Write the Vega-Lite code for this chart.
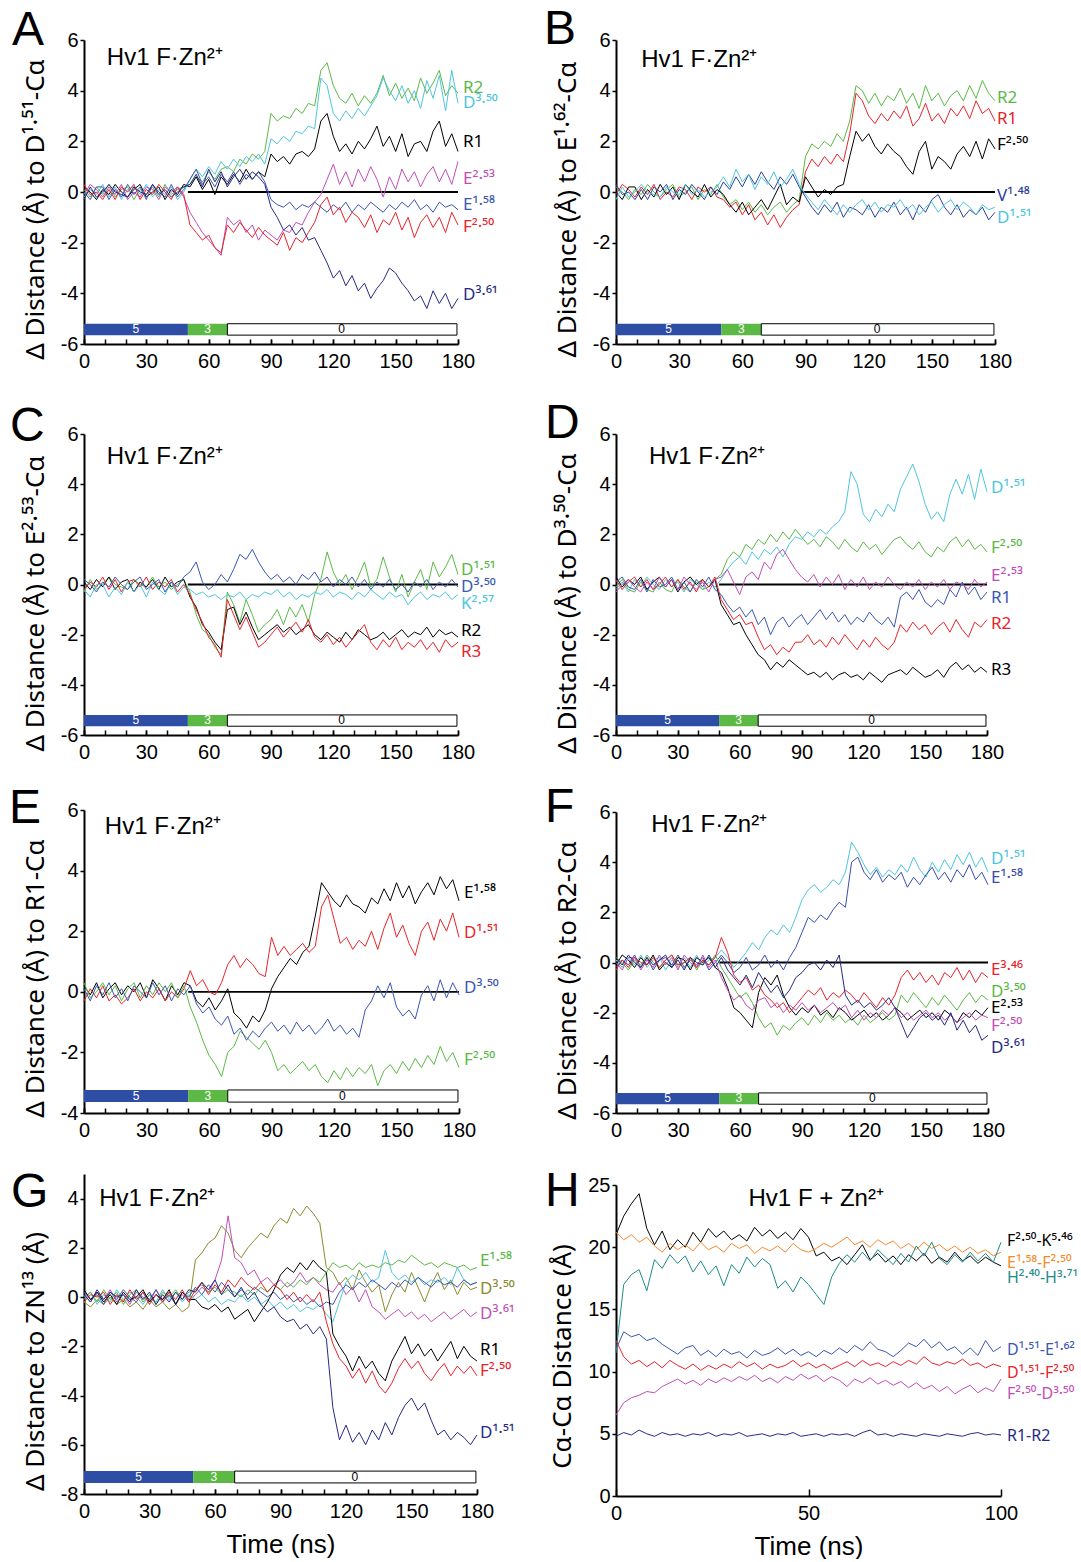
{
"$schema":"https://vega.github.io/schema/vega-lite/v6.json",
"background":"white",
"padding":{"left":9,"top":6,"right":0,"bottom":0},
"config":{
 "font":"Liberation Sans",
 "view":{"stroke":null},
 "axis":{"grid":false,"domainColor":"#000","domainWidth":2,"tickColor":"#000","tickWidth":1.5,"labelColor":"#000","labelFontSize":20,"labelFont":"Liberation Sans","titleFont":"Liberation Sans","titleFontSize":28,"titleFontWeight":"normal","titleColor":"#000","labelFlush":false,"labelOverlap":false},
 "axisX":{"tickSize":-5,"labelPadding":12,"titlePadding":10,"titleFontSize":26},
 "axisY":{"tickSize":4,"labelPadding":2,"titlePadding":12,"titleFont":"Noto Sans","titleFontSize":26},
 "title":{"fontSize":48,"fontWeight":"normal","anchor":"start","frame":"group","offset":0,"baseline":"alphabetic","color":"#000","font":"Liberation Sans"},
 "text":{"font":"Liberation Sans","color":"#000"}
},
"resolve":{"scale":{"color":"independent"}},
"datasets":{
"bars":[{"x0":0,"x1":50,"l":"5","c":"b","m":25},{"x0":50,"x1":69,"l":"3","c":"g","m":59.5},{"x0":69,"x1":179.5,"l":"0","c":"w","m":124}],
"A":[
{"t":0,"a":0.1,"b":-0.2,"c":0.2,"d":-0.1,"e":0,"f":0.3,"g":-0.3},
{"t":3,"a":-0.2,"b":0.1,"c":0,"d":0.3,"e":-0.3,"f":-0.1,"g":0.2},
{"t":6,"a":0.2,"b":-0.1,"c":-0.3,"d":0.1,"e":0.2,"f":0,"g":-0.2},
{"t":9,"a":-0.1,"b":0.3,"c":0.1,"d":-0.2,"e":0.2,"f":-0.3,"g":0},
{"t":12,"a":0.3,"b":-0.2,"c":-0.1,"d":0.2,"e":-0.3,"f":0.1,"g":0.3},
{"t":15,"a":-0.2,"b":0.2,"c":0.3,"d":-0.1,"e":0.1,"f":-0.3,"g":0},
{"t":18,"a":0.1,"b":-0.3,"c":0,"d":0.3,"e":-0.2,"f":0.2,"g":-0.1},
{"t":21,"a":0.2,"b":0.1,"c":-0.2,"d":-0.3,"e":0.3,"f":0,"g":-0.2},
{"t":24,"a":-0.3,"b":0.2,"c":0.1,"d":0,"e":-0.1,"f":0.3,"g":0.2},
{"t":27,"a":0.1,"b":-0.1,"c":0.3,"d":-0.2,"e":0.2,"f":-0.3,"g":0},
{"t":30,"a":-0.1,"b":0.3,"c":-0.2,"d":0.2,"e":-0.3,"f":0.1,"g":-0.1},
{"t":33,"a":0.2,"b":-0.2,"c":0,"d":0.1,"e":0.3,"f":-0.1,"g":0.3},
{"t":36,"a":-0.2,"b":0.1,"c":0.2,"d":-0.3,"e":0,"f":0.3,"g":-0.1},
{"t":39,"a":0.3,"b":-0.1,"c":-0.3,"d":0.2,"e":-0.2,"f":0,"g":0.1},
{"t":42,"a":-0.1,"b":0.2,"c":0.1,"d":0,"e":0.3,"f":-0.3,"g":-0.2},
{"t":45,"a":0.1,"b":-0.3,"c":-0.1,"d":0.2,"e":-0.2,"f":0.2,"g":0},
{"t":48,"a":0.2,"b":0,"c":0.3,"d":-0.2,"e":0.1,"f":-0.1,"g":0.2},
{"t":51,"a":0.3,"b":0.5,"c":0.2,"d":-0.8,"e":0.5,"f":-1.3,"g":0.3},
{"t":54,"a":0.6,"b":0.9,"c":0.6,"d":-1.2,"e":0.9,"f":-1.6,"g":0.7},
{"t":57,"a":0.4,"b":0.6,"c":0.1,"d":-1.6,"e":0.3,"f":-1.9,"g":0.2},
{"t":60,"a":0.8,"b":1,"c":0.5,"d":-1.9,"e":0.6,"f":-1.7,"g":0.9},
{"t":63,"a":0.5,"b":0.7,"c":-0.1,"d":-2.2,"e":0.2,"f":-2.2,"g":0.4},
{"t":66,"a":0.9,"b":1.2,"c":0.6,"d":-2.5,"e":0.7,"f":-2.4,"g":0.8},
{"t":69,"a":1,"b":0.9,"c":0.3,"d":-1,"e":0.4,"f":-1.3,"g":0.2},
{"t":72,"a":0.8,"b":1.3,"c":0.7,"d":-1.3,"e":0.8,"f":-1.6,"g":0.6},
{"t":75,"a":1.3,"b":1,"c":0.4,"d":-1.1,"e":0.3,"f":-1.2,"g":0.9},
{"t":78,"a":1.1,"b":1.4,"c":0.9,"d":-1.6,"e":0.7,"f":-1.5,"g":0.5},
{"t":81,"a":1.5,"b":1.2,"c":0.5,"d":-1.3,"e":0.5,"f":-1.8,"g":0.8},
{"t":84,"a":1.3,"b":1.5,"c":0.8,"d":-1.9,"e":0.8,"f":-1.4,"g":0.6},
{"t":87,"a":1.6,"b":1.1,"c":0.6,"d":-1.5,"e":0.4,"f":-1.7,"g":0.3},
{"t":90,"a":3.1,"b":2.1,"c":1.5,"d":-1.7,"e":-0.3,"f":-1.9,"g":-0.6},
{"t":93,"a":2.8,"b":1.9,"c":1.2,"d":-1.9,"e":-0.5,"f":-2.1,"g":-1},
{"t":96,"a":3,"b":2.2,"c":1.4,"d":-1.5,"e":-0.6,"f":-1.6,"g":-1.5},
{"t":99,"a":2.9,"b":2,"c":1.1,"d":-1.6,"e":-0.4,"f":-2.3,"g":-1.3},
{"t":102,"a":3.3,"b":2.4,"c":1.5,"d":-1.2,"e":-0.7,"f":-1.8,"g":-1.7},
{"t":105,"a":3.1,"b":2.3,"c":1.6,"d":-1.3,"e":-0.5,"f":-2,"g":-1.4},
{"t":108,"a":3.5,"b":2.6,"c":1.4,"d":-0.8,"e":-0.6,"f":-1.6,"g":-1.9},
{"t":111,"a":3.4,"b":2.5,"c":1.7,"d":-0.4,"e":-0.4,"f":-1.2,"g":-1.8},
{"t":114,"a":4.8,"b":4.5,"c":2.8,"d":-0.1,"e":-0.6,"f":-0.5,"g":-2.3},
{"t":117,"a":5.1,"b":4.2,"c":3.1,"d":0.5,"e":-0.8,"f":-0.2,"g":-2.8},
{"t":120,"a":4.2,"b":3.1,"c":2.2,"d":1.1,"e":-0.5,"f":-0.9,"g":-3.4},
{"t":123,"a":3.7,"b":2.8,"c":1.6,"d":0.3,"e":-0.7,"f":-0.6,"g":-3.1},
{"t":126,"a":3.5,"b":3.2,"c":1.9,"d":0.8,"e":-0.4,"f":-1.2,"g":-3.7},
{"t":129,"a":3.9,"b":2.9,"c":1.5,"d":0.2,"e":-0.8,"f":-0.8,"g":-3.3},
{"t":132,"a":3.4,"b":3.3,"c":2,"d":0.9,"e":-0.5,"f":-1,"g":-3.9},
{"t":135,"a":3.8,"b":3,"c":1.7,"d":0.4,"e":-0.7,"f":-1.4,"g":-3.6},
{"t":138,"a":3.5,"b":3.4,"c":2.1,"d":1,"e":-0.4,"f":-0.9,"g":-4.2},
{"t":141,"a":3.9,"b":3.8,"c":2.6,"d":0.5,"e":-0.6,"f":-1.6,"g":-3.8},
{"t":144,"a":4.6,"b":4.5,"c":1.8,"d":-0.2,"e":-0.8,"f":-1.1,"g":-3.5},
{"t":147,"a":3.8,"b":4,"c":2.2,"d":0.6,"e":-0.5,"f":-1.3,"g":-3},
{"t":150,"a":4.3,"b":3.6,"c":1.6,"d":0.1,"e":-0.7,"f":-0.8,"g":-3.2},
{"t":153,"a":3.7,"b":4.2,"c":2.3,"d":0.9,"e":-0.4,"f":-1.5,"g":-3.6},
{"t":156,"a":4.1,"b":3.5,"c":1.4,"d":0.4,"e":-0.6,"f":-1,"g":-3.9},
{"t":159,"a":3.6,"b":4,"c":1.9,"d":0.8,"e":-0.3,"f":-1.8,"g":-4.3},
{"t":162,"a":4.5,"b":3.3,"c":2,"d":0.2,"e":-0.7,"f":-1.2,"g":-4.1},
{"t":165,"a":3.9,"b":4.4,"c":1.6,"d":0.7,"e":-0.5,"f":-0.9,"g":-4.6},
{"t":168,"a":4.3,"b":3.7,"c":2.4,"d":1,"e":-0.8,"f":-1.4,"g":-3.9},
{"t":171,"a":4.8,"b":4.6,"c":2.8,"d":0.4,"e":-0.4,"f":-1,"g":-4.4},
{"t":174,"a":3.8,"b":3.2,"c":1.8,"d":0.9,"e":-0.6,"f":-1.6,"g":-4},
{"t":177,"a":4.2,"b":4.8,"c":2.3,"d":0.3,"e":-0.5,"f":-0.8,"g":-4.6},
{"t":180,"a":3.9,"b":3.5,"c":1.6,"d":1.2,"e":-0.7,"f":-1.3,"g":-4.2}
],
"B":[
{"t":0,"a":0.2,"b":-0.1,"c":0,"d":0.3,"e":-0.3},
{"t":3,"a":0,"b":0.3,"c":-0.3,"d":-0.1,"e":0.2},
{"t":6,"a":-0.3,"b":0.1,"c":0.2,"d":0,"e":-0.2},
{"t":9,"a":0.1,"b":-0.2,"c":0.2,"d":-0.3,"e":0},
{"t":12,"a":-0.1,"b":0.2,"c":-0.3,"d":0.1,"e":0.3},
{"t":15,"a":0.3,"b":-0.1,"c":0.1,"d":-0.3,"e":0},
{"t":18,"a":0,"b":0.3,"c":-0.2,"d":0.2,"e":-0.1},
{"t":21,"a":-0.2,"b":-0.3,"c":0.3,"d":0,"e":-0.2},
{"t":24,"a":0.1,"b":0,"c":-0.1,"d":0.3,"e":0.2},
{"t":27,"a":0.3,"b":-0.2,"c":0.2,"d":-0.3,"e":0},
{"t":30,"a":-0.2,"b":0.2,"c":-0.3,"d":0.1,"e":-0.1},
{"t":33,"a":0,"b":0.1,"c":0.3,"d":-0.1,"e":0.3},
{"t":36,"a":0.2,"b":-0.3,"c":0,"d":0.3,"e":-0.1},
{"t":39,"a":-0.3,"b":0.2,"c":-0.2,"d":0,"e":0.1},
{"t":42,"a":0.1,"b":0,"c":0.3,"d":-0.3,"e":-0.2},
{"t":45,"a":-0.1,"b":0.2,"c":-0.2,"d":0.2,"e":0},
{"t":48,"a":0.3,"b":-0.2,"c":0.1,"d":-0.1,"e":0.2},
{"t":51,"a":-0.2,"b":-0.3,"c":-0.1,"d":0.4,"e":0.6},
{"t":54,"a":-0.5,"b":-0.6,"c":-0.5,"d":0.1,"e":0.2},
{"t":57,"a":-0.3,"b":-0.4,"c":-0.8,"d":0.6,"e":0.9},
{"t":60,"a":-0.7,"b":-0.9,"c":-0.4,"d":0.2,"e":0.4},
{"t":63,"a":-0.4,"b":-0.5,"c":-0.9,"d":0.7,"e":0.7},
{"t":66,"a":-0.8,"b":-1.1,"c":-0.6,"d":0.3,"e":0.1},
{"t":69,"a":-0.5,"b":-0.8,"c":-0.3,"d":0.8,"e":0.6},
{"t":72,"a":-0.9,"b":-1.3,"c":-0.7,"d":0.4,"e":0.3},
{"t":75,"a":-0.6,"b":-0.9,"c":-0.2,"d":0.1,"e":0.8},
{"t":78,"a":-0.4,"b":-1.4,"c":0.3,"d":0.6,"e":0.2},
{"t":81,"a":-0.8,"b":-1,"c":-0.5,"d":0.3,"e":0.5},
{"t":84,"a":-0.5,"b":-0.7,"c":-0.2,"d":0.7,"e":0.9},
{"t":87,"a":-0.3,"b":-0.5,"c":-0.4,"d":0.2,"e":0.3},
{"t":90,"a":1.4,"b":0.8,"c":0.6,"d":-0.2,"e":-0.1},
{"t":93,"a":1.9,"b":1.3,"c":0.2,"d":-0.6,"e":-0.4},
{"t":96,"a":1.7,"b":1,"c":-0.2,"d":-0.9,"e":-0.7},
{"t":99,"a":2,"b":1.4,"c":0.1,"d":-0.5,"e":-0.3},
{"t":102,"a":1.8,"b":1.1,"c":-0.1,"d":-0.8,"e":-0.6},
{"t":105,"a":2.3,"b":1.5,"c":0.2,"d":-0.4,"e":-0.9},
{"t":108,"a":2,"b":1.2,"c":0.3,"d":-1,"e":-0.5},
{"t":111,"a":2.8,"b":2.3,"c":1.4,"d":-0.6,"e":-0.8},
{"t":114,"a":4.2,"b":3.9,"c":2.4,"d":-0.7,"e":-0.5},
{"t":117,"a":4,"b":3.6,"c":2,"d":-0.9,"e":-0.3},
{"t":120,"a":3.5,"b":3,"c":2.3,"d":-0.5,"e":-0.7},
{"t":123,"a":3.9,"b":2.7,"c":1.8,"d":-1,"e":-0.4},
{"t":126,"a":3.4,"b":3.1,"c":1.5,"d":-0.6,"e":-0.8},
{"t":129,"a":3.8,"b":2.8,"c":1.9,"d":-0.8,"e":-0.5},
{"t":132,"a":3.6,"b":3.2,"c":1.6,"d":-0.4,"e":-0.6},
{"t":135,"a":4.1,"b":2.9,"c":1.4,"d":-0.9,"e":-0.3},
{"t":138,"a":3.5,"b":3.4,"c":1,"d":-0.6,"e":-0.7},
{"t":141,"a":3.9,"b":2.6,"c":0.7,"d":-1.1,"e":-0.5},
{"t":144,"a":3.3,"b":2.9,"c":1.6,"d":-0.5,"e":-0.9},
{"t":147,"a":4.2,"b":3.5,"c":2,"d":-0.8,"e":-0.6},
{"t":150,"a":3.6,"b":2.8,"c":0.9,"d":-0.3,"e":-0.4},
{"t":153,"a":3.9,"b":3.1,"c":1.4,"d":-0.1,"e":-0.8},
{"t":156,"a":3.4,"b":2.7,"c":1.2,"d":-0.6,"e":-0.5},
{"t":159,"a":3.8,"b":3.3,"c":0.9,"d":-0.9,"e":-0.3},
{"t":162,"a":4,"b":3,"c":1.5,"d":-0.5,"e":-0.7},
{"t":165,"a":3.6,"b":3.4,"c":1.8,"d":-1,"e":-0.4},
{"t":168,"a":4.2,"b":2.9,"c":1.4,"d":-0.7,"e":-0.6},
{"t":171,"a":3.7,"b":3.6,"c":2,"d":-0.9,"e":-0.9},
{"t":174,"a":4.4,"b":3.1,"c":1.3,"d":-0.6,"e":-0.5},
{"t":177,"a":3.9,"b":3.3,"c":2.1,"d":-1.1,"e":-0.7},
{"t":180,"a":3.6,"b":2.8,"c":1.7,"d":-0.8,"e":-0.6}
],
"C":[
{"t":0,"a":-0.3,"b":0.1,"c":-0.2,"d":-0.2,"e":0.2},
{"t":3,"a":0.2,"b":-0.2,"c":0.1,"d":-0.5,"e":0},
{"t":6,"a":-0.2,"b":0.2,"c":-0.1,"d":0,"e":-0.3},
{"t":9,"a":0,"b":-0.1,"c":0.3,"d":0,"e":0.1},
{"t":12,"a":0.3,"b":0.3,"c":-0.2,"d":-0.5,"e":-0.1},
{"t":15,"a":0,"b":-0.2,"c":0.2,"d":-0.1,"e":0.3},
{"t":18,"a":-0.1,"b":0.1,"c":-0.3,"d":-0.4,"e":0},
{"t":21,"a":-0.2,"b":0.2,"c":0.1,"d":0.1,"e":-0.2},
{"t":24,"a":0.2,"b":-0.3,"c":0.2,"d":-0.3,"e":0.1},
{"t":27,"a":0,"b":0.1,"c":-0.1,"d":0,"e":0.3},
{"t":30,"a":-0.1,"b":-0.1,"c":0.3,"d":-0.5,"e":-0.2},
{"t":33,"a":0.3,"b":0.2,"c":-0.2,"d":0.1,"e":0},
{"t":36,"a":-0.1,"b":-0.2,"c":0.1,"d":-0.2,"e":0.2},
{"t":39,"a":0.1,"b":0.3,"c":-0.1,"d":-0.4,"e":-0.3},
{"t":42,"a":-0.2,"b":-0.1,"c":0.2,"d":0.1,"e":0.1},
{"t":45,"a":0,"b":0.1,"c":-0.3,"d":-0.4,"e":-0.1},
{"t":48,"a":0.2,"b":0.2,"c":0,"d":-0.1,"e":0.3},
{"t":51,"a":-0.3,"b":-0.5,"c":-0.4,"d":-0.2,"e":0.5},
{"t":54,"a":-1.2,"b":-0.9,"c":-1,"d":-0.4,"e":0.9},
{"t":57,"a":-1.8,"b":-1.6,"c":-1.5,"d":-0.3,"e":0.1},
{"t":60,"a":-2,"b":-1.9,"c":-2.1,"d":-0.5,"e":-0.2},
{"t":63,"a":-2.5,"b":-2.3,"c":-2.4,"d":-0.4,"e":0},
{"t":66,"a":-2.8,"b":-2.6,"c":-2.9,"d":-0.6,"e":0.4},
{"t":69,"a":-0.3,"b":-1,"c":-0.6,"d":-0.4,"e":0.1},
{"t":72,"a":-0.8,"b":-0.9,"c":-1.2,"d":-0.5,"e":0.6},
{"t":75,"a":-1.5,"b":-1.6,"c":-1.8,"d":-0.3,"e":1.2},
{"t":78,"a":-0.6,"b":-1.1,"c":-1.3,"d":-0.6,"e":1},
{"t":81,"a":-1.2,"b":-1.7,"c":-1.9,"d":-0.4,"e":1.4},
{"t":84,"a":-1.9,"b":-2.2,"c":-2.5,"d":-0.5,"e":0.9},
{"t":87,"a":-1.6,"b":-2,"c":-2.3,"d":-0.3,"e":0.5},
{"t":90,"a":-1.4,"b":-1.8,"c":-2,"d":-0.4,"e":0.2},
{"t":93,"a":-1,"b":-1.6,"c":-1.7,"d":-0.2,"e":0.4},
{"t":96,"a":-1.6,"b":-1.9,"c":-2.1,"d":-0.5,"e":0.1},
{"t":99,"a":-0.9,"b":-1.7,"c":-1.8,"d":-0.3,"e":0.3},
{"t":102,"a":-1.3,"b":-2,"c":-1.5,"d":-0.6,"e":0},
{"t":105,"a":-0.8,"b":-1.8,"c":-1.9,"d":-0.4,"e":0.4},
{"t":108,"a":-1.5,"b":-1.6,"c":-1.4,"d":-0.5,"e":0.2},
{"t":111,"a":-0.4,"b":-2,"c":-2.1,"d":-0.3,"e":0.5},
{"t":114,"a":0.2,"b":-2.2,"c":-2.3,"d":-0.4,"e":0.1},
{"t":117,"a":1.3,"b":-1.9,"c":-2,"d":-0.2,"e":0.3},
{"t":120,"a":0.5,"b":-2.1,"c":-2.4,"d":-0.5,"e":-0.1},
{"t":123,"a":0,"b":-2.3,"c":-2.1,"d":-0.3,"e":0.2},
{"t":126,"a":0.4,"b":-1.9,"c":-2.5,"d":-0.4,"e":0},
{"t":129,"a":-0.2,"b":-2.2,"c":-2.2,"d":-0.6,"e":0.3},
{"t":132,"a":0.3,"b":-1.8,"c":-1.9,"d":-0.3,"e":-0.1},
{"t":135,"a":0.9,"b":-2,"c":-1.6,"d":-0.5,"e":0.2},
{"t":138,"a":-0.1,"b":-2.2,"c":-2.3,"d":-0.2,"e":-0.2},
{"t":141,"a":0.2,"b":-2.1,"c":-2.6,"d":-0.4,"e":0.1},
{"t":144,"a":1.1,"b":-1.9,"c":-2.2,"d":-0.6,"e":-0.1},
{"t":147,"a":0.3,"b":-2.2,"c":-2.5,"d":-0.3,"e":0.2},
{"t":150,"a":-0.3,"b":-2,"c":-2.1,"d":-0.5,"e":-0.2},
{"t":153,"a":0.4,"b":-1.8,"c":-2.6,"d":-0.4,"e":0},
{"t":156,"a":-0.5,"b":-2.1,"c":-2.3,"d":-0.8,"e":-0.3},
{"t":159,"a":0.1,"b":-1.9,"c":-2.5,"d":-0.5,"e":0.1},
{"t":162,"a":0.6,"b":-2,"c":-2.2,"d":-0.3,"e":-0.1},
{"t":165,"a":-0.2,"b":-1.7,"c":-2.6,"d":-0.6,"e":0.2},
{"t":168,"a":0.9,"b":-2.1,"c":-2.3,"d":-0.4,"e":-0.2},
{"t":171,"a":0.3,"b":-1.8,"c":-2.7,"d":-0.5,"e":0.1},
{"t":174,"a":0.7,"b":-2,"c":-2.2,"d":-0.3,"e":-0.1},
{"t":177,"a":1.2,"b":-1.9,"c":-2.5,"d":-0.6,"e":0.2},
{"t":180,"a":0.4,"b":-2.1,"c":-2.3,"d":-0.4,"e":-0.1}
],
"D":[
{"t":0,"a":-0.2,"b":-0.1,"c":0.3,"d":0.2,"e":0.1,"f":-0.3},
{"t":3,"a":0.1,"b":0.2,"c":-0.1,"d":-0.2,"e":0.3,"f":0},
{"t":6,"a":-0.3,"b":-0.2,"c":0.2,"d":0.1,"e":-0.1,"f":0.2},
{"t":9,"a":0.2,"b":-0.3,"c":0,"d":0.3,"e":-0.2,"f":-0.1},
{"t":12,"a":-0.1,"b":0.1,"c":0.3,"d":-0.1,"e":0.2,"f":-0.3},
{"t":15,"a":0.3,"b":-0.2,"c":-0.2,"d":0.2,"e":-0.3,"f":0.1},
{"t":18,"a":0,"b":-0.3,"c":0.1,"d":-0.2,"e":0.2,"f":-0.2},
{"t":21,"a":-0.2,"b":0.1,"c":0.3,"d":0,"e":-0.1,"f":0.3},
{"t":24,"a":0.2,"b":-0.2,"c":-0.1,"d":0.3,"e":0,"f":-0.1},
{"t":27,"a":-0.1,"b":-0.3,"c":0.2,"d":-0.1,"e":0.3,"f":0.2},
{"t":30,"a":0.1,"b":0.2,"c":-0.3,"d":0.2,"e":-0.2,"f":-0.2},
{"t":33,"a":-0.3,"b":-0.1,"c":0.1,"d":-0.2,"e":0.1,"f":0.3},
{"t":36,"a":0.2,"b":-0.3,"c":0.3,"d":0.1,"e":-0.3,"f":0},
{"t":39,"a":0,"b":0.1,"c":0,"d":-0.3,"e":0.2,"f":-0.2},
{"t":42,"a":-0.2,"b":-0.2,"c":0.2,"d":0.2,"e":-0.1,"f":0.1},
{"t":45,"a":0.1,"b":-0.1,"c":-0.1,"d":-0.1,"e":0.3,"f":-0.3},
{"t":48,"a":-0.1,"b":0.2,"c":0.2,"d":0.3,"e":-0.2,"f":0.2},
{"t":51,"a":0.2,"b":0.4,"c":-0.8,"d":-0.6,"e":-0.4,"f":0.3},
{"t":54,"a":0.6,"b":1,"c":-1.2,"d":-1,"e":-0.8,"f":0.6},
{"t":57,"a":0.9,"b":1.3,"c":-1.6,"d":-1.4,"e":-1.1,"f":0.1},
{"t":60,"a":1.1,"b":1.1,"c":-1.5,"d":-1.2,"e":-0.9,"f":-0.4},
{"t":63,"a":0.8,"b":1.6,"c":-2,"d":-1.6,"e":-1.3,"f":0.3},
{"t":66,"a":1.3,"b":1.4,"c":-2.4,"d":-1.5,"e":-1,"f":0.5},
{"t":69,"a":1,"b":1.8,"c":-2.8,"d":-2.1,"e":-1.6,"f":0.2},
{"t":72,"a":1.4,"b":1.6,"c":-3,"d":-2.6,"e":-1.3,"f":0.9},
{"t":75,"a":1.2,"b":2,"c":-3.4,"d":-2.4,"e":-2,"f":0.6},
{"t":78,"a":1.5,"b":1.7,"c":-3.1,"d":-2.8,"e":-1.5,"f":1.2},
{"t":81,"a":1.1,"b":2.1,"c":-3.3,"d":-2.5,"e":-1.3,"f":1.4},
{"t":84,"a":1.6,"b":1.8,"c":-3,"d":-2.7,"e":-1.7,"f":1},
{"t":87,"a":1.9,"b":2.2,"c":-3.2,"d":-2.3,"e":-1.4,"f":0.6},
{"t":90,"a":1.8,"b":1.9,"c":-3.4,"d":-2.3,"e":-1.2,"f":0.3},
{"t":93,"a":2.1,"b":1.6,"c":-3.6,"d":-2,"e":-1.6,"f":0.1},
{"t":96,"a":1.9,"b":1.8,"c":-3.5,"d":-2.4,"e":-1.3,"f":0.4},
{"t":99,"a":2.2,"b":1.5,"c":-3.7,"d":-2.2,"e":-1,"f":-0.1},
{"t":102,"a":2,"b":1.9,"c":-3.5,"d":-2.5,"e":-1.4,"f":0.3},
{"t":105,"a":2.3,"b":1.7,"c":-3.8,"d":-2.1,"e":-1.1,"f":0},
{"t":108,"a":2.5,"b":1.4,"c":-3.6,"d":-2.4,"e":-1.5,"f":0.4},
{"t":111,"a":2.9,"b":1.8,"c":-3.5,"d":-2,"e":-1.2,"f":-0.2},
{"t":114,"a":4.5,"b":1.5,"c":-3.7,"d":-2.3,"e":-1.6,"f":0.2},
{"t":117,"a":4,"b":1.3,"c":-3.6,"d":-2.6,"e":-1.3,"f":-0.1},
{"t":120,"a":2.8,"b":1.7,"c":-3.8,"d":-2.2,"e":-1.5,"f":0.3},
{"t":123,"a":2.5,"b":1.4,"c":-3.5,"d":-2.5,"e":-1.1,"f":-0.2},
{"t":126,"a":3,"b":1.6,"c":-3.7,"d":-2.1,"e":-1.4,"f":0.1},
{"t":129,"a":2.7,"b":1.2,"c":-3.9,"d":-2.4,"e":-1.6,"f":-0.1},
{"t":132,"a":3.2,"b":1.5,"c":-3.6,"d":-2.6,"e":-1.3,"f":0.3},
{"t":135,"a":2.9,"b":1.8,"c":-3.5,"d":-2.3,"e":-1.7,"f":0},
{"t":138,"a":3.8,"b":1.9,"c":-3.4,"d":-1.6,"e":-0.5,"f":-0.2},
{"t":141,"a":4.3,"b":1.6,"c":-3.6,"d":-1.9,"e":-0.3,"f":0.1},
{"t":144,"a":4.8,"b":1.4,"c":-3.3,"d":-1.5,"e":-0.6,"f":-0.1},
{"t":147,"a":4.1,"b":1.7,"c":-3.5,"d":-1.8,"e":-0.2,"f":0.2},
{"t":150,"a":3.2,"b":1.3,"c":-3.7,"d":-1.6,"e":-0.7,"f":-0.2},
{"t":153,"a":2.6,"b":1.1,"c":-3.6,"d":-2,"e":-0.9,"f":0.1},
{"t":156,"a":2.9,"b":1.5,"c":-3.4,"d":-1.7,"e":-0.6,"f":-0.1},
{"t":159,"a":2.5,"b":1.3,"c":-3.7,"d":-1.5,"e":-0.8,"f":0.2},
{"t":162,"a":3.6,"b":1.7,"c":-3.3,"d":-1.9,"e":-0.2,"f":-0.2},
{"t":165,"a":4.2,"b":1.9,"c":-3.1,"d":-1.4,"e":-0.5,"f":0.1},
{"t":168,"a":3.6,"b":1.5,"c":-3.4,"d":-1.8,"e":0.1,"f":0},
{"t":171,"a":4.4,"b":1.8,"c":-3.2,"d":-2.1,"e":-0.4,"f":-0.2},
{"t":174,"a":3.4,"b":1.4,"c":-3.5,"d":-1.5,"e":-0.1,"f":0.2},
{"t":177,"a":4.6,"b":1.6,"c":-3.3,"d":-1.7,"e":-0.6,"f":-0.1},
{"t":180,"a":3.7,"b":1.3,"c":-3.5,"d":-1.4,"e":-0.3,"f":0.1}
],
"E":[
{"t":0,"a":0.2,"b":-0.3,"c":0.3,"d":0.1},
{"t":3,"a":-0.1,"b":0.1,"c":-0.2,"d":-0.3},
{"t":6,"a":0.3,"b":-0.2,"c":0,"d":0.2},
{"t":9,"a":-0.2,"b":0.2,"c":0.3,"d":-0.1},
{"t":12,"a":0.1,"b":-0.3,"c":-0.1,"d":0.3},
{"t":15,"a":0.3,"b":-0.1,"c":0.2,"d":-0.2},
{"t":18,"a":-0.1,"b":-0.4,"c":-0.3,"d":0.1},
{"t":21,"a":0.2,"b":-0.2,"c":0.1,"d":-0.3},
{"t":24,"a":0,"b":0.1,"c":0.3,"d":0.2},
{"t":27,"a":0.3,"b":-0.3,"c":-0.2,"d":0},
{"t":30,"a":-0.2,"b":0,"c":0.2,"d":-0.2},
{"t":33,"a":0.4,"b":-0.2,"c":-0.1,"d":0.3},
{"t":36,"a":0.1,"b":0.1,"c":0.3,"d":-0.1},
{"t":39,"a":-0.3,"b":-0.3,"c":0,"d":0.2},
{"t":42,"a":0.2,"b":0,"c":0.3,"d":-0.3},
{"t":45,"a":-0.1,"b":-0.2,"c":-0.2,"d":0.1},
{"t":48,"a":0.3,"b":0.1,"c":0.2,"d":-0.1},
{"t":51,"a":0.2,"b":0.7,"c":-0.5,"d":0.2},
{"t":54,"a":-0.3,"b":0.2,"c":-1,"d":-0.4},
{"t":57,"a":-0.5,"b":0.4,"c":-1.6,"d":-0.7},
{"t":60,"a":-0.2,"b":0,"c":-2.1,"d":-0.5},
{"t":63,"a":-0.6,"b":-0.1,"c":-2.4,"d":-0.9},
{"t":66,"a":-0.3,"b":0.3,"c":-2.8,"d":-1.1},
{"t":69,"a":0.1,"b":0.9,"c":-2,"d":-0.8},
{"t":72,"a":-0.7,"b":1.2,"c":-1.8,"d":-1.4},
{"t":75,"a":-0.9,"b":0.8,"c":-1.3,"d":-1.2},
{"t":78,"a":-1.2,"b":1.1,"c":-1.5,"d":-1.6},
{"t":81,"a":-0.8,"b":0.9,"c":-1.7,"d":-1.3},
{"t":84,"a":-1,"b":0.6,"c":-1.9,"d":-1.5},
{"t":87,"a":-0.6,"b":0.5,"c":-1.6,"d":-1.2},
{"t":90,"a":0.1,"b":1.8,"c":-2,"d":-1},
{"t":93,"a":0.5,"b":1.2,"c":-2.6,"d":-1.3},
{"t":96,"a":0.8,"b":1.5,"c":-2.4,"d":-1.1},
{"t":99,"a":1.1,"b":1.2,"c":-2.7,"d":-1.4},
{"t":102,"a":0.9,"b":1.4,"c":-2.5,"d":-1},
{"t":105,"a":1.3,"b":1.6,"c":-2.3,"d":-1.3},
{"t":108,"a":1.5,"b":1.3,"c":-2.6,"d":-1.1},
{"t":111,"a":2.5,"b":1.5,"c":-2.4,"d":-1.4},
{"t":114,"a":3.6,"b":2.8,"c":-2.8,"d":-1.2},
{"t":117,"a":3.3,"b":3.2,"c":-3,"d":-0.9},
{"t":120,"a":3,"b":2.4,"c":-2.6,"d":-1.3},
{"t":123,"a":2.8,"b":1.6,"c":-2.9,"d":-1.1},
{"t":126,"a":3.2,"b":1.8,"c":-2.5,"d":-1.4},
{"t":129,"a":2.9,"b":1.4,"c":-2.8,"d":-1.2},
{"t":132,"a":2.8,"b":1.7,"c":-2.5,"d":-1.5},
{"t":135,"a":2.6,"b":1.5,"c":-2.7,"d":-0.6},
{"t":138,"a":3.1,"b":2,"c":-2.4,"d":-0.3},
{"t":141,"a":2.9,"b":1.4,"c":-3.1,"d":0.2},
{"t":144,"a":3.4,"b":2.1,"c":-2.6,"d":-0.2},
{"t":147,"a":3,"b":2.6,"c":-2.4,"d":0.3},
{"t":150,"a":3.6,"b":1.8,"c":-2.7,"d":-0.5},
{"t":153,"a":3.1,"b":2.2,"c":-2.3,"d":-0.8},
{"t":156,"a":3.5,"b":1.6,"c":-2.6,"d":-0.6},
{"t":159,"a":2.9,"b":1.2,"c":-2.2,"d":-0.9},
{"t":162,"a":3.3,"b":2,"c":-2.5,"d":-0.1},
{"t":165,"a":3.6,"b":2.3,"c":-2.1,"d":0.2},
{"t":168,"a":3.2,"b":1.7,"c":-2.4,"d":-0.3},
{"t":171,"a":3.8,"b":2.4,"c":-1.8,"d":0.4},
{"t":174,"a":3.4,"b":2,"c":-2.3,"d":-0.2},
{"t":177,"a":3.7,"b":2.6,"c":-2,"d":0.3},
{"t":180,"a":3,"b":1.8,"c":-2.5,"d":-0.1}
],
"F":[
{"t":0,"a":0.1,"b":-0.2,"c":0.2,"d":-0.1,"e":0,"f":-0.3,"g":0.2},
{"t":3,"a":-0.2,"b":0.1,"c":0,"d":0.3,"e":-0.3,"f":0.1,"g":-0.1},
{"t":6,"a":0.2,"b":-0.1,"c":-0.3,"d":0.1,"e":0.2,"f":-0.2,"g":0.3},
{"t":9,"a":-0.1,"b":0.3,"c":0.1,"d":-0.2,"e":0.2,"f":0.2,"g":0},
{"t":12,"a":0.3,"b":-0.2,"c":-0.1,"d":0.2,"e":-0.3,"f":0,"g":-0.2},
{"t":15,"a":-0.2,"b":0.2,"c":0.3,"d":-0.1,"e":0.1,"f":-0.1,"g":0.2},
{"t":18,"a":0.1,"b":-0.3,"c":0,"d":0.3,"e":-0.2,"f":0.2,"g":-0.1},
{"t":21,"a":0.2,"b":0.1,"c":-0.2,"d":-0.3,"e":0.3,"f":-0.2,"g":0.1},
{"t":24,"a":-0.3,"b":0.2,"c":0.1,"d":0,"e":-0.1,"f":0.1,"g":0.3},
{"t":27,"a":0.1,"b":-0.1,"c":0.3,"d":-0.2,"e":0.2,"f":0.3,"g":-0.2},
{"t":30,"a":-0.1,"b":0.3,"c":-0.2,"d":0.2,"e":-0.3,"f":-0.1,"g":0.1},
{"t":33,"a":0.2,"b":-0.2,"c":0,"d":0.1,"e":0.3,"f":0,"g":-0.3},
{"t":36,"a":-0.2,"b":0.1,"c":0.2,"d":-0.3,"e":0,"f":0.2,"g":0.2},
{"t":39,"a":0.3,"b":-0.1,"c":-0.3,"d":0.2,"e":-0.2,"f":-0.2,"g":0},
{"t":42,"a":-0.1,"b":0.2,"c":0.1,"d":0,"e":0.3,"f":0.1,"g":-0.1},
{"t":45,"a":0.1,"b":-0.3,"c":-0.1,"d":0.2,"e":-0.2,"f":-0.1,"g":0.3},
{"t":48,"a":0.2,"b":0,"c":0.3,"d":-0.2,"e":0.1,"f":0.2,"g":-0.2},
{"t":51,"a":0.5,"b":0.3,"c":-0.2,"d":-0.4,"e":-0.6,"f":1,"g":0.2},
{"t":54,"a":0.2,"b":0,"c":-0.6,"d":-1,"e":-1.1,"f":0.4,"g":-0.3},
{"t":57,"a":-0.2,"b":-0.4,"c":-1,"d":-1.8,"e":-1.5,"f":-0.5,"g":-0.6},
{"t":60,"a":0.1,"b":-0.2,"c":-1.4,"d":-2,"e":-1.3,"f":-0.8,"g":-0.9},
{"t":63,"a":0.4,"b":0.2,"c":-1.2,"d":-2.3,"e":-1.7,"f":-0.6,"g":-0.5},
{"t":66,"a":0.8,"b":-0.3,"c":-1.6,"d":-2.6,"e":-1.9,"f":-1.1,"g":-1},
{"t":69,"a":0.5,"b":-0.1,"c":-2.2,"d":-1.2,"e":-1.5,"f":-0.9,"g":-0.4},
{"t":72,"a":1,"b":0.3,"c":-2.6,"d":-0.6,"e":-1.4,"f":-1.3,"g":-0.8},
{"t":75,"a":1.3,"b":-0.2,"c":-2.4,"d":-0.9,"e":-1.8,"f":-1.5,"g":-1.2},
{"t":78,"a":1.1,"b":0.1,"c":-2.9,"d":-0.5,"e":-1.6,"f":-1.8,"g":-0.9},
{"t":81,"a":1.5,"b":-0.3,"c":-2.5,"d":-1.3,"e":-2,"f":-1.6,"g":-1.4},
{"t":84,"a":1.2,"b":0.2,"c":-2.7,"d":-1.8,"e":-1.7,"f":-2,"g":-1.1},
{"t":87,"a":1.8,"b":0.6,"c":-2.4,"d":-2.1,"e":-1.9,"f":-1.7,"g":-0.6},
{"t":90,"a":2.5,"b":1.2,"c":-2.2,"d":-1.8,"e":-1.6,"f":-1.4,"g":-0.4},
{"t":93,"a":2.9,"b":1.8,"c":-2.5,"d":-2,"e":-1.9,"f":-1.1,"g":-0.1},
{"t":96,"a":3.1,"b":1.6,"c":-2.1,"d":-1.7,"e":-1.7,"f":-1.3,"g":0},
{"t":99,"a":2.8,"b":1.9,"c":-2.4,"d":-2.1,"e":-2,"f":-1,"g":-0.3},
{"t":102,"a":3,"b":1.7,"c":-2,"d":-1.9,"e":-1.8,"f":-1.5,"g":0.1},
{"t":105,"a":3.3,"b":2.1,"c":-2.3,"d":-2.2,"e":-1.6,"f":-1.2,"g":-0.2},
{"t":108,"a":3.1,"b":2.4,"c":-2.1,"d":-1.8,"e":-1.9,"f":-1.4,"g":0.3},
{"t":111,"a":3.6,"b":2.2,"c":-2.4,"d":-2,"e":-1.7,"f":-1.1,"g":-1.3},
{"t":114,"a":4.8,"b":4,"c":-2.2,"d":-2.3,"e":-2.2,"f":-1.3,"g":-1.7},
{"t":117,"a":4.4,"b":4.2,"c":-2.5,"d":-2.1,"e":-1.9,"f":-1.6,"g":-1.5},
{"t":120,"a":3.9,"b":3.6,"c":-2.1,"d":-1.9,"e":-2.3,"f":-1.2,"g":-1.8},
{"t":123,"a":3.5,"b":3.3,"c":-2.4,"d":-2.2,"e":-2,"f":-1.5,"g":-1.6},
{"t":126,"a":3.8,"b":3.7,"c":-2.2,"d":-2,"e":-2.2,"f":-1.8,"g":-1.9},
{"t":129,"a":3.4,"b":3.2,"c":-2,"d":-2.3,"e":-1.9,"f":-1.4,"g":-1.7},
{"t":132,"a":3.7,"b":3.5,"c":-2.3,"d":-2.1,"e":-2.1,"f":-1.7,"g":-1.4},
{"t":135,"a":3.5,"b":3.3,"c":-2.1,"d":-1.8,"e":-1.8,"f":-1.3,"g":-1.8},
{"t":138,"a":3.9,"b":3.6,"c":-1.3,"d":-2,"e":-2.2,"f":-0.6,"g":-2.4},
{"t":141,"a":3.6,"b":3,"c":-1.6,"d":-2.3,"e":-2,"f":-0.3,"g":-3},
{"t":144,"a":4.2,"b":3.4,"c":-1.2,"d":-2.1,"e":-2.3,"f":-0.7,"g":-2.6},
{"t":147,"a":3.7,"b":3.1,"c":-1.5,"d":-1.9,"e":-2.1,"f":-0.4,"g":-2.2},
{"t":150,"a":3.4,"b":3.5,"c":-1.8,"d":-2.2,"e":-1.9,"f":-0.8,"g":-2},
{"t":153,"a":4,"b":3.8,"c":-1.4,"d":-2,"e":-2.2,"f":-0.5,"g":-2.3},
{"t":156,"a":3.6,"b":3.3,"c":-1.7,"d":-2.3,"e":-2,"f":-0.9,"g":-2.1},
{"t":159,"a":4.1,"b":3.6,"c":-1.3,"d":-1.9,"e":-2.3,"f":-0.4,"g":-2.5},
{"t":162,"a":3.7,"b":3.2,"c":-1.6,"d":-2.1,"e":-2.1,"f":-0.6,"g":-2},
{"t":165,"a":4.3,"b":3.7,"c":-1.9,"d":-2.4,"e":-2.4,"f":-0.2,"g":-2.7},
{"t":168,"a":3.9,"b":3.4,"c":-1.5,"d":-2,"e":-2.2,"f":-0.7,"g":-2.3},
{"t":171,"a":4.4,"b":3.9,"c":-1.2,"d":-2.2,"e":-2,"f":-0.3,"g":-2.8},
{"t":174,"a":3.8,"b":3.3,"c":-1.6,"d":-1.9,"e":-2.3,"f":-0.8,"g":-2.5},
{"t":177,"a":4.2,"b":3.6,"c":-1.3,"d":-2.1,"e":-2.1,"f":-0.4,"g":-3.1},
{"t":180,"a":3.6,"b":3.1,"c":-1.5,"d":-1.8,"e":-2.2,"f":-0.6,"g":-2.9}
],
"G":[
{"t":0,"a":-0.2,"b":0.1,"c":-0.1,"d":0.2,"e":0,"f":0.3,"g":-0.2,"h":0.1},
{"t":3,"a":-0.4,"b":-0.2,"c":0.2,"d":-0.1,"e":0.2,"f":-0.1,"g":0.1,"h":-0.2},
{"t":6,"a":-0.1,"b":0.2,"c":-0.3,"d":0.1,"e":-0.2,"f":0.2,"g":0,"h":0.3},
{"t":9,"a":-0.3,"b":-0.1,"c":0.1,"d":-0.3,"e":0.3,"f":-0.2,"g":0.2,"h":-0.1},
{"t":12,"a":0,"b":0.3,"c":-0.2,"d":0.2,"e":-0.1,"f":0.1,"g":-0.3,"h":0.2},
{"t":15,"a":-0.3,"b":-0.2,"c":0.3,"d":-0.1,"e":0.2,"f":-0.3,"g":0.1,"h":0},
{"t":18,"a":-0.1,"b":0.1,"c":-0.1,"d":0.3,"e":-0.3,"f":0.2,"g":-0.2,"h":0.1},
{"t":21,"a":-0.4,"b":-0.3,"c":0.2,"d":0,"e":0.1,"f":-0.1,"g":0.3,"h":-0.2},
{"t":24,"a":-0.2,"b":0.2,"c":0,"d":-0.2,"e":0.3,"f":0,"g":-0.1,"h":0.3},
{"t":27,"a":-0.5,"b":0,"c":-0.3,"d":0.2,"e":-0.2,"f":0.3,"g":0.2,"h":-0.1},
{"t":30,"a":-0.1,"b":-0.2,"c":0.1,"d":-0.1,"e":0.1,"f":-0.2,"g":-0.3,"h":0.2},
{"t":33,"a":-0.4,"b":0.3,"c":-0.2,"d":0.3,"e":-0.3,"f":0.1,"g":0.1,"h":-0.3},
{"t":36,"a":-0.2,"b":-0.1,"c":0.3,"d":-0.2,"e":0.2,"f":-0.1,"g":-0.2,"h":0.1},
{"t":39,"a":-0.5,"b":0.2,"c":-0.1,"d":0.1,"e":0,"f":0.3,"g":0.2,"h":-0.2},
{"t":42,"a":-0.3,"b":-0.3,"c":0.2,"d":-0.3,"e":0.3,"f":-0.3,"g":-0.1,"h":0.2},
{"t":45,"a":-0.6,"b":0.1,"c":-0.2,"d":0.2,"e":-0.1,"f":0.2,"g":0.3,"h":-0.1},
{"t":48,"a":-0.4,"b":-0.2,"c":0.1,"d":0,"e":0.2,"f":-0.1,"g":-0.2,"h":0.3},
{"t":51,"a":1.5,"b":0.1,"c":-0.1,"d":0.4,"e":0.3,"f":-0.1,"g":0.3,"h":0.2},
{"t":54,"a":1.8,"b":0.4,"c":0.1,"d":0.1,"e":0.5,"f":-0.4,"g":0.6,"h":0.6},
{"t":57,"a":2.2,"b":0.2,"c":-0.2,"d":0.5,"e":0.2,"f":-0.5,"g":0.1,"h":0.3},
{"t":60,"a":2.4,"b":0.7,"c":0,"d":0.2,"e":0.4,"f":-0.3,"g":0.5,"h":0.7},
{"t":63,"a":2.9,"b":1.5,"c":-0.3,"d":0.6,"e":0.1,"f":-0.6,"g":0.2,"h":0.1},
{"t":66,"a":2.6,"b":3.3,"c":-0.1,"d":0.3,"e":0.3,"f":-0.4,"g":0.7,"h":0.5},
{"t":69,"a":1.9,"b":1.6,"c":-0.2,"d":0,"e":0.2,"f":-0.9,"g":0.4,"h":0},
{"t":72,"a":1.6,"b":1.4,"c":0.1,"d":0.3,"e":0,"f":-0.7,"g":0.8,"h":0.4},
{"t":75,"a":2,"b":0.9,"c":-0.2,"d":0.1,"e":0.3,"f":-0.5,"g":0.5,"h":-0.1},
{"t":78,"a":2.3,"b":1.1,"c":0,"d":0.4,"e":0.1,"f":-1,"g":0.3,"h":0.2},
{"t":81,"a":2.6,"b":0.6,"c":-0.3,"d":0.2,"e":0.4,"f":-0.6,"g":0.6,"h":-0.3},
{"t":84,"a":2.4,"b":0.8,"c":-0.1,"d":0,"e":0.2,"f":-0.2,"g":0.2,"h":-0.6},
{"t":87,"a":2.9,"b":0.5,"c":-0.4,"d":0.2,"e":0.5,"f":0.3,"g":0.5,"h":-0.4},
{"t":90,"a":3.2,"b":0.7,"c":-0.2,"d":-0.1,"e":0.3,"f":0.9,"g":0.3,"h":-0.8},
{"t":93,"a":3,"b":0.4,"c":-0.5,"d":0.1,"e":0.6,"f":1.2,"g":-0.1,"h":-1},
{"t":96,"a":3.6,"b":0.6,"c":-0.3,"d":-0.2,"e":0.4,"f":1,"g":0.2,"h":-0.9},
{"t":99,"a":3.3,"b":1,"c":-0.6,"d":0,"e":0.7,"f":1.4,"g":-0.2,"h":-1.3},
{"t":102,"a":3.7,"b":0.6,"c":-0.4,"d":-0.3,"e":0.5,"f":1.1,"g":0.1,"h":-1.1},
{"t":105,"a":3.4,"b":0.8,"c":-0.5,"d":-0.1,"e":0.8,"f":1.5,"g":-0.2,"h":-1.5},
{"t":108,"a":3,"b":0.5,"c":-0.3,"d":-0.4,"e":0.6,"f":1.2,"g":0.2,"h":-1.2},
{"t":111,"a":1.2,"b":0.3,"c":-0.7,"d":-0.2,"e":1,"f":1,"g":-1,"h":-1.7},
{"t":114,"a":1,"b":0.2,"c":-1,"d":-0.3,"e":1.4,"f":-1.5,"g":-1.9,"h":-4.5},
{"t":117,"a":0.5,"b":0.6,"c":-0.2,"d":0.2,"e":1.2,"f":-2,"g":-2.5,"h":-5.8},
{"t":120,"a":0.8,"b":0.1,"c":0.6,"d":0.5,"e":1.3,"f":-2.4,"g":-2.8,"h":-5.2},
{"t":123,"a":0.3,"b":0.4,"c":0.9,"d":0.3,"e":1.1,"f":-3,"g":-3.3,"h":-5.9},
{"t":126,"a":1.1,"b":-0.2,"c":0.7,"d":0.6,"e":1.4,"f":-2.4,"g":-2.9,"h":-5.5},
{"t":129,"a":0.6,"b":0.3,"c":1,"d":0.4,"e":1.2,"f":-2.9,"g":-3.5,"h":-6},
{"t":132,"a":0.2,"b":-0.4,"c":0.6,"d":0.7,"e":1.3,"f":-2.6,"g":-3,"h":-5.4},
{"t":135,"a":0.5,"b":-0.6,"c":0.8,"d":0.5,"e":1.2,"f":-3.1,"g":-3.6,"h":-5.8},
{"t":138,"a":-0.6,"b":-0.9,"c":1.9,"d":0.3,"e":1.4,"f":-3.4,"g":-3.9,"h":-5.1},
{"t":141,"a":0.1,"b":-0.7,"c":1,"d":0.6,"e":1.3,"f":-2.6,"g":-3.5,"h":-5.6},
{"t":144,"a":0.6,"b":-0.5,"c":0.7,"d":0.4,"e":1.5,"f":-2.1,"g":-2.9,"h":-4.9},
{"t":147,"a":0.2,"b":-0.8,"c":0.9,"d":0.7,"e":1.4,"f":-1.6,"g":-2.5,"h":-4.4},
{"t":150,"a":1,"b":-0.6,"c":0.6,"d":0.5,"e":1.7,"f":-2.3,"g":-2.9,"h":-4.1},
{"t":153,"a":0.4,"b":-0.9,"c":0.8,"d":0.8,"e":1.5,"f":-1.9,"g":-2.6,"h":-4.6},
{"t":156,"a":-0.2,"b":-0.7,"c":0.5,"d":0.6,"e":1.3,"f":-2.4,"g":-3.1,"h":-4.3},
{"t":159,"a":0.5,"b":-1,"c":0.7,"d":0.4,"e":1.4,"f":-2.1,"g":-3.4,"h":-5},
{"t":162,"a":1,"b":-0.8,"c":0.6,"d":0.7,"e":1.2,"f":-2.6,"g":-3,"h":-5.6},
{"t":165,"a":0.3,"b":-0.6,"c":0.8,"d":0.5,"e":1.4,"f":-2.2,"g":-2.7,"h":-5.4},
{"t":168,"a":0.7,"b":-0.9,"c":0.5,"d":0.6,"e":1.3,"f":-1.8,"g":-3.2,"h":-5.8},
{"t":171,"a":0.1,"b":-0.7,"c":1.2,"d":0.4,"e":1.2,"f":-2.5,"g":-2.8,"h":-5.5},
{"t":174,"a":0.6,"b":-0.5,"c":0.7,"d":0.7,"e":1.3,"f":-2,"g":-3.1,"h":-5.7},
{"t":177,"a":0.3,"b":-0.8,"c":0.5,"d":0.5,"e":1.1,"f":-2.4,"g":-2.8,"h":-6},
{"t":180,"a":0.4,"b":-0.6,"c":0.6,"d":0.6,"e":1.2,"f":-2.6,"g":-3.2,"h":-5.6}
],
"H":[
{"t":0,"a":21,"b":21.2,"c":11.5,"d":11.8,"e":12.5,"f":6.5,"g":4.8},
{"t":2,"a":22.5,"b":20.6,"c":17,"d":13.2,"e":11.2,"f":7.5,"g":5.1},
{"t":4,"a":23.5,"b":21,"c":17.8,"d":12.8,"e":10.6,"f":7.9,"g":4.9},
{"t":6,"a":24.3,"b":20.4,"c":18.2,"d":13,"e":10.9,"f":8.1,"g":5.3},
{"t":8,"a":21.5,"b":20.8,"c":16.5,"d":12.5,"e":10.4,"f":8.4,"g":5},
{"t":10,"a":20.2,"b":20.1,"c":19,"d":12.7,"e":10.8,"f":8.3,"g":4.8},
{"t":12,"a":21.3,"b":19.6,"c":18.3,"d":12.2,"e":10.3,"f":8.8,"g":5.1},
{"t":14,"a":19.8,"b":20.3,"c":19.4,"d":11.8,"e":10.9,"f":9.1,"g":4.9},
{"t":16,"a":20.6,"b":19.8,"c":18.7,"d":11.4,"e":10.5,"f":9.4,"g":5},
{"t":18,"a":20,"b":20.2,"c":19.3,"d":11.9,"e":10.2,"f":9,"g":4.8},
{"t":20,"a":21.2,"b":19.7,"c":18,"d":12.1,"e":10.6,"f":9.3,"g":5},
{"t":22,"a":20.4,"b":20.4,"c":18.9,"d":11.3,"e":10.1,"f":8.9,"g":4.9},
{"t":24,"a":21.5,"b":19.8,"c":17.8,"d":11.7,"e":10.5,"f":9.4,"g":5.1},
{"t":26,"a":20.8,"b":20.1,"c":18.5,"d":11.2,"e":10.2,"f":9.1,"g":4.8},
{"t":28,"a":21.3,"b":19.6,"c":16.9,"d":11.8,"e":10.6,"f":9.5,"g":5},
{"t":30,"a":20.6,"b":20.3,"c":18.6,"d":11.4,"e":10.3,"f":9.2,"g":4.9},
{"t":32,"a":21,"b":19.9,"c":17.9,"d":11.6,"e":10.8,"f":9.6,"g":5.1},
{"t":34,"a":20.5,"b":20.2,"c":19.2,"d":11.1,"e":10.4,"f":9.3,"g":4.8},
{"t":36,"a":21.6,"b":19.5,"c":18.4,"d":11.7,"e":10.7,"f":9.7,"g":4.9},
{"t":38,"a":20.9,"b":20,"c":19.1,"d":11.3,"e":10.2,"f":9.2,"g":5},
{"t":40,"a":21.4,"b":19.7,"c":18.6,"d":11.5,"e":10.6,"f":9.5,"g":4.8},
{"t":42,"a":20.7,"b":20.1,"c":16.7,"d":11.9,"e":10.3,"f":9.1,"g":5},
{"t":44,"a":21.2,"b":19.6,"c":17.3,"d":11.4,"e":10.5,"f":9.6,"g":4.9},
{"t":46,"a":20.6,"b":20.3,"c":16.4,"d":11.8,"e":10.9,"f":9.3,"g":5.1},
{"t":48,"a":21.5,"b":19.8,"c":17.6,"d":11.3,"e":10.4,"f":9.8,"g":4.8},
{"t":50,"a":20.8,"b":19.6,"c":17,"d":11.6,"e":10.7,"f":9.4,"g":4.9},
{"t":52,"a":19.3,"b":19.9,"c":16.2,"d":11.2,"e":10.3,"f":9.7,"g":5},
{"t":54,"a":19.6,"b":20.3,"c":15.4,"d":11.7,"e":10.6,"f":9.2,"g":4.8},
{"t":56,"a":18.9,"b":20,"c":17.6,"d":11.4,"e":10.2,"f":9.6,"g":5},
{"t":58,"a":19.2,"b":20.4,"c":18.7,"d":11.9,"e":10.5,"f":9.3,"g":4.9},
{"t":60,"a":18.6,"b":20.8,"c":19.4,"d":11.5,"e":10.8,"f":8.8,"g":5},
{"t":62,"a":19.4,"b":20.2,"c":18.8,"d":12.1,"e":10.4,"f":9.4,"g":4.8},
{"t":64,"a":20.2,"b":20.5,"c":19.6,"d":11.7,"e":10.9,"f":9.1,"g":5.1},
{"t":66,"a":19,"b":20,"c":18.9,"d":12.4,"e":10.5,"f":9.5,"g":5.3},
{"t":68,"a":19.5,"b":20.6,"c":19.8,"d":11.8,"e":10.7,"f":9,"g":4.9},
{"t":70,"a":18.8,"b":20.2,"c":19.2,"d":11.6,"e":10.4,"f":9.3,"g":5},
{"t":72,"a":19.3,"b":20.5,"c":18.6,"d":11.2,"e":10.8,"f":8.9,"g":4.8},
{"t":74,"a":18.6,"b":19.9,"c":19.5,"d":11.7,"e":10.5,"f":9.2,"g":5},
{"t":76,"a":19.4,"b":20.3,"c":18.8,"d":12.3,"e":10.9,"f":8.7,"g":4.9},
{"t":78,"a":18.9,"b":19.8,"c":20.1,"d":12,"e":10.6,"f":9.1,"g":4.8},
{"t":80,"a":19.5,"b":20.4,"c":19.3,"d":12.6,"e":11.2,"f":8.6,"g":5},
{"t":82,"a":18.7,"b":19.9,"c":20.4,"d":11.9,"e":10.7,"f":8.9,"g":4.9},
{"t":84,"a":19.2,"b":20.2,"c":19.1,"d":12.4,"e":10.5,"f":8.4,"g":4.8},
{"t":86,"a":18.8,"b":19.7,"c":18.6,"d":11.7,"e":10.8,"f":8.8,"g":5},
{"t":88,"a":19.6,"b":20.1,"c":19.4,"d":12,"e":10.6,"f":8.2,"g":4.9},
{"t":90,"a":18.9,"b":19.6,"c":18.8,"d":11.4,"e":11,"f":8.6,"g":4.8},
{"t":92,"a":19.3,"b":20,"c":19.6,"d":11.9,"e":10.5,"f":8.9,"g":5},
{"t":94,"a":18.7,"b":19.5,"c":18.9,"d":11.3,"e":10.7,"f":8.3,"g":5.1},
{"t":96,"a":19.2,"b":19.8,"c":19.5,"d":12.5,"e":10.3,"f":8.7,"g":4.9},
{"t":98,"a":18.8,"b":19.3,"c":18.8,"d":11.6,"e":10.6,"f":8.4,"g":5},
{"t":100,"a":18.5,"b":19.6,"c":20.4,"d":12,"e":10.4,"f":9.4,"g":4.9}
]
},
"columns":2,
"spacing":{"row":61,"column":139},
"bounds":"flush",
"align":"each",
"concat":[
{"width":374,"height":304,"title":{"text":"A","dx":-72,"dy":29},"resolve":{"axis":{"x":"independent"}},"layer":[
 {"data":{"name":"bars"},"mark":{"type":"rect","strokeWidth":1},"encoding":{"x":{"field":"x0","type":"quantitative","axis":{"values":[0,10,20,30,40,50,60,70,80,90,100,110,120,130,140,150,160,170,180],"labels":false,"domain":false,"orient":"bottom","title":null}},"x2":{"field":"x1"},"y":{"datum":-5.65},"y2":{"datum":-5.2},"fill":{"condition":[{"test":"datum.c==='b'","value":"#2E4DA5"},{"test":"datum.c==='g'","value":"#5CB946"}],"value":"#ffffff"},"stroke":{"condition":{"test":"datum.c==='w'","value":"#000000"},"value":"transparent"}}},
 {"data":{"name":"bars"},"mark":{"type":"text","fontSize":12,"baseline":"middle"},"encoding":{"x":{"field":"m","type":"quantitative","axis":null},"y":{"datum":-5.42},"text":{"field":"l"},"fill":{"condition":{"test":"datum.c==='w'","value":"#000000"},"value":"#ffffff"}}},
 {"data":{"values":[{}]},"mark":{"type":"rule","color":"#000","strokeWidth":1.8},"encoding":{"x":{"datum":50,"axis":null},"x2":{"datum":180},"y":{"datum":0}}},
 {"data":{"name":"A"},"transform":[{"fold":["a","b","c","d","e","f","g"],"as":["s","v"]}],"mark":{"type":"line","strokeWidth":1},"encoding":{"x":{"field":"t","type":"quantitative","scale":{"domain":[0,180],"nice":false},"axis":{"values":[0,30,60,90,120,150,180],"labelExpr":"toString(datum.value)","orient":"bottom","title":null}},"y":{"field":"v","type":"quantitative","scale":{"domain":[-6,6],"nice":false,"zero":false},"axis":{"values":[-6,-4,-2,0,2,4,6],"labelExpr":"toString(datum.value)","title":"Δ Distance (Å) to D¹·⁵¹-Cα","titleY":169}},"color":{"field":"s","type":"nominal","scale":{"domain":["a","b","c","d","e","f","g"],"range":["#5BB946","#4EC5DD","#000000","#C14EB6","#3B56B3","#E8232A","#252A86"]},"legend":null}}},
 {"data":{"values":[{"s":"a","l":"R2","y":4.1},{"s":"b","l":"D³·⁵⁰","y":3.5},{"s":"c","l":"R1","y":1.96},{"s":"d","l":"E²·⁵³","y":0.53},{"s":"e","l":"E¹·⁵⁸","y":-0.53},{"s":"f","l":"F²·⁵⁰","y":-1.37},{"s":"g","l":"D³·⁶¹","y":-4.06}]},"mark":{"type":"text","align":"left","baseline":"middle","dx":5,"fontSize":17,"font":"Noto Sans"},"encoding":{"x":{"datum":180,"axis":null},"y":{"field":"y","type":"quantitative"},"text":{"field":"l"},"color":{"field":"s","type":"nominal","scale":{"domain":["a","b","c","d","e","f","g"],"range":["#5BB946","#4EC5DD","#000000","#C14EB6","#3B56B3","#E8232A","#252A86"]},"legend":null}}},
 {"data":{"values":[{}]},"mark":{"type":"text","text":"Hv1 F·Zn²⁺","align":"left","baseline":"middle","fontSize":24},"encoding":{"x":{"datum":11,"axis":null},"y":{"datum":5.3}}}
]},
{"width":379,"height":304,"title":{"text":"B","dx":-72,"dy":28},"resolve":{"axis":{"x":"independent"}},"layer":[
 {"data":{"name":"bars"},"mark":{"type":"rect","strokeWidth":1},"encoding":{"x":{"field":"x0","type":"quantitative","axis":{"values":[0,10,20,30,40,50,60,70,80,90,100,110,120,130,140,150,160,170,180],"labels":false,"domain":false,"orient":"bottom","title":null}},"x2":{"field":"x1"},"y":{"datum":-5.65},"y2":{"datum":-5.2},"fill":{"condition":[{"test":"datum.c==='b'","value":"#2E4DA5"},{"test":"datum.c==='g'","value":"#5CB946"}],"value":"#ffffff"},"stroke":{"condition":{"test":"datum.c==='w'","value":"#000000"},"value":"transparent"}}},
 {"data":{"name":"bars"},"mark":{"type":"text","fontSize":12,"baseline":"middle"},"encoding":{"x":{"field":"m","type":"quantitative","axis":null},"y":{"datum":-5.42},"text":{"field":"l"},"fill":{"condition":{"test":"datum.c==='w'","value":"#000000"},"value":"#ffffff"}}},
 {"data":{"values":[{}]},"mark":{"type":"rule","color":"#000","strokeWidth":1.8},"encoding":{"x":{"datum":88,"axis":null},"x2":{"datum":180},"y":{"datum":0}}},
 {"data":{"name":"B"},"transform":[{"fold":["a","b","c","d","e"],"as":["s","v"]}],"mark":{"type":"line","strokeWidth":1},"encoding":{"x":{"field":"t","type":"quantitative","scale":{"domain":[0,180],"nice":false},"axis":{"values":[0,30,60,90,120,150,180],"labelExpr":"toString(datum.value)","orient":"bottom","title":null}},"y":{"field":"v","type":"quantitative","scale":{"domain":[-6,6],"nice":false,"zero":false},"axis":{"values":[-6,-4,-2,0,2,4,6],"labelExpr":"toString(datum.value)","title":"Δ Distance (Å) to E¹·⁶²-Cα","titleY":169}},"color":{"field":"s","type":"nominal","scale":{"domain":["a","b","c","d","e"],"range":["#5BB946","#E8232A","#000000","#2E3FA0","#4EC5DD"]},"legend":null}}},
 {"data":{"values":[{"s":"a","l":"R2","y":3.7},{"s":"b","l":"R1","y":2.87},{"s":"c","l":"F²·⁵⁰","y":1.85},{"s":"d","l":"V¹·⁴⁸","y":-0.14},{"s":"e","l":"D¹·⁵¹","y":-1.04}]},"mark":{"type":"text","align":"left","baseline":"middle","dx":2,"fontSize":17,"font":"Noto Sans"},"encoding":{"x":{"datum":180,"axis":null},"y":{"field":"y","type":"quantitative"},"text":{"field":"l"},"color":{"field":"s","type":"nominal","scale":{"domain":["a","b","c","d","e"],"range":["#5BB946","#E8232A","#000000","#2E3FA0","#4EC5DD"]},"legend":null}}},
 {"data":{"values":[{}]},"mark":{"type":"text","text":"Hv1 F·Zn²⁺","align":"left","baseline":"middle","fontSize":24},"encoding":{"x":{"datum":12,"axis":null},"y":{"datum":5.2}}}
]},
{"width":374,"height":330,"title":{"text":"C","dx":-74,"dy":50},"resolve":{"axis":{"x":"independent"}},"layer":[
 {"data":{"name":"bars"},"mark":{"type":"rect","strokeWidth":1},"encoding":{"x":{"field":"x0","type":"quantitative","axis":{"values":[0,10,20,30,40,50,60,70,80,90,100,110,120,130,140,150,160,170,180],"labels":false,"domain":false,"orient":"bottom","title":null}},"x2":{"field":"x1"},"y":{"datum":-5.65},"y2":{"datum":-5.2},"fill":{"condition":[{"test":"datum.c==='b'","value":"#2E4DA5"},{"test":"datum.c==='g'","value":"#5CB946"}],"value":"#ffffff"},"stroke":{"condition":{"test":"datum.c==='w'","value":"#000000"},"value":"transparent"}}},
 {"data":{"name":"bars"},"mark":{"type":"text","fontSize":12,"baseline":"middle"},"encoding":{"x":{"field":"m","type":"quantitative","axis":null},"y":{"datum":-5.42},"text":{"field":"l"},"fill":{"condition":{"test":"datum.c==='w'","value":"#000000"},"value":"#ffffff"}}},
 {"data":{"values":[{}]},"mark":{"type":"rule","color":"#000","strokeWidth":1.8},"encoding":{"x":{"datum":50,"axis":null},"x2":{"datum":180},"y":{"datum":0}}},
 {"data":{"name":"C"},"transform":[{"fold":["a","b","c","d","e"],"as":["s","v"]}],"mark":{"type":"line","strokeWidth":1},"encoding":{"x":{"field":"t","type":"quantitative","scale":{"domain":[0,180],"nice":false},"axis":{"values":[0,30,60,90,120,150,180],"labelExpr":"toString(datum.value)","orient":"bottom","title":null}},"y":{"field":"v","type":"quantitative","scale":{"domain":[-6,6],"nice":false,"zero":false,"range":[330,29]},"axis":{"values":[-6,-4,-2,0,2,4,6],"labelExpr":"toString(datum.value)","title":"Δ Distance (Å) to E²·⁵³-Cα","titleY":198}},"color":{"field":"s","type":"nominal","scale":{"domain":["a","b","c","d","e"],"range":["#5BB946","#000000","#E8232A","#4EC5DD","#3B56B3"]},"legend":null}}},
 {"data":{"values":[{"s":"a","l":"D¹·⁵¹","y":0.58},{"s":"e","l":"D³·⁵⁰","y":-0.1},{"s":"d","l":"K²·⁵⁷","y":-0.78},{"s":"b","l":"R2","y":-1.85},{"s":"c","l":"R3","y":-2.7}]},"mark":{"type":"text","align":"left","baseline":"middle","dx":3,"fontSize":17,"font":"Noto Sans"},"encoding":{"x":{"datum":180,"axis":null},"y":{"field":"y","type":"quantitative"},"text":{"field":"l"},"color":{"field":"s","type":"nominal","scale":{"domain":["a","b","c","d","e"],"range":["#5BB946","#000000","#E8232A","#4EC5DD","#3B56B3"]},"legend":null}}},
 {"data":{"values":[{}]},"mark":{"type":"text","text":"Hv1 F·Zn²⁺","align":"left","baseline":"middle","fontSize":24},"encoding":{"x":{"datum":11,"axis":null},"y":{"datum":5.1}}}
]},
{"width":371,"height":330,"title":{"text":"D","dx":-71,"dy":47},"resolve":{"axis":{"x":"independent"}},"layer":[
 {"data":{"name":"bars"},"mark":{"type":"rect","strokeWidth":1},"encoding":{"x":{"field":"x0","type":"quantitative","axis":{"values":[0,10,20,30,40,50,60,70,80,90,100,110,120,130,140,150,160,170,180],"labels":false,"domain":false,"orient":"bottom","title":null}},"x2":{"field":"x1"},"y":{"datum":-5.65},"y2":{"datum":-5.2},"fill":{"condition":[{"test":"datum.c==='b'","value":"#2E4DA5"},{"test":"datum.c==='g'","value":"#5CB946"}],"value":"#ffffff"},"stroke":{"condition":{"test":"datum.c==='w'","value":"#000000"},"value":"transparent"}}},
 {"data":{"name":"bars"},"mark":{"type":"text","fontSize":12,"baseline":"middle"},"encoding":{"x":{"field":"m","type":"quantitative","axis":null},"y":{"datum":-5.42},"text":{"field":"l"},"fill":{"condition":{"test":"datum.c==='w'","value":"#000000"},"value":"#ffffff"}}},
 {"data":{"values":[{}]},"mark":{"type":"rule","color":"#000","strokeWidth":1.8},"encoding":{"x":{"datum":50,"axis":null},"x2":{"datum":180},"y":{"datum":0}}},
 {"data":{"name":"D"},"transform":[{"fold":["a","b","c","d","e","f"],"as":["s","v"]}],"mark":{"type":"line","strokeWidth":1},"encoding":{"x":{"field":"t","type":"quantitative","scale":{"domain":[0,180],"nice":false},"axis":{"values":[0,30,60,90,120,150,180],"labelExpr":"toString(datum.value)","orient":"bottom","title":null}},"y":{"field":"v","type":"quantitative","scale":{"domain":[-6,6],"nice":false,"zero":false,"range":[330,29]},"axis":{"values":[-6,-4,-2,0,2,4,6],"labelExpr":"toString(datum.value)","title":"Δ Distance (Å) to D³·⁵⁰-Cα","titleY":198}},"color":{"field":"s","type":"nominal","scale":{"domain":["a","b","c","d","e","f"],"range":["#4EC5DD","#5BB946","#000000","#E8232A","#3B56B3","#C14EB6"]},"legend":null}}},
 {"data":{"values":[{"s":"a","l":"D¹·⁵¹","y":3.84},{"s":"b","l":"F²·⁵⁰","y":1.46},{"s":"f","l":"E²·⁵³","y":0.34},{"s":"e","l":"R1","y":-0.54},{"s":"d","l":"R2","y":-1.57},{"s":"c","l":"R3","y":-3.4}]},"mark":{"type":"text","align":"left","baseline":"middle","dx":4,"fontSize":17,"font":"Noto Sans"},"encoding":{"x":{"datum":180,"axis":null},"y":{"field":"y","type":"quantitative"},"text":{"field":"l"},"color":{"field":"s","type":"nominal","scale":{"domain":["a","b","c","d","e","f"],"range":["#4EC5DD","#5BB946","#000000","#E8232A","#3B56B3","#C14EB6"]},"legend":null}}},
 {"data":{"values":[{}]},"mark":{"type":"text","text":"Hv1 F·Zn²⁺","align":"left","baseline":"middle","fontSize":24},"encoding":{"x":{"datum":16,"axis":null},"y":{"datum":5.1}}}
]},
{"width":375,"height":317,"title":{"text":"E","dx":-75,"dy":41},"resolve":{"axis":{"x":"independent"}},"layer":[
 {"data":{"name":"bars"},"mark":{"type":"rect","strokeWidth":1},"encoding":{"x":{"field":"x0","type":"quantitative","axis":{"values":[0,10,20,30,40,50,60,70,80,90,100,110,120,130,140,150,160,170,180],"labels":false,"domain":false,"orient":"bottom","title":null}},"x2":{"field":"x1"},"y":{"datum":-3.64},"y2":{"datum":-3.24},"fill":{"condition":[{"test":"datum.c==='b'","value":"#2E4DA5"},{"test":"datum.c==='g'","value":"#5CB946"}],"value":"#ffffff"},"stroke":{"condition":{"test":"datum.c==='w'","value":"#000000"},"value":"transparent"}}},
 {"data":{"name":"bars"},"mark":{"type":"text","fontSize":12,"baseline":"middle"},"encoding":{"x":{"field":"m","type":"quantitative","axis":null},"y":{"datum":-3.44},"text":{"field":"l"},"fill":{"condition":{"test":"datum.c==='w'","value":"#000000"},"value":"#ffffff"}}},
 {"data":{"values":[{}]},"mark":{"type":"rule","color":"#000","strokeWidth":1.8},"encoding":{"x":{"datum":50,"axis":null},"x2":{"datum":180},"y":{"datum":0}}},
 {"data":{"name":"E"},"transform":[{"fold":["a","b","c","d"],"as":["s","v"]}],"mark":{"type":"line","strokeWidth":1},"encoding":{"x":{"field":"t","type":"quantitative","scale":{"domain":[0,180],"nice":false},"axis":{"values":[0,30,60,90,120,150,180],"labelExpr":"toString(datum.value)","orient":"bottom","title":null}},"y":{"field":"v","type":"quantitative","scale":{"domain":[-4,6],"nice":false,"zero":false,"range":[317,14]},"axis":{"values":[-4,-2,0,2,4,6],"labelExpr":"toString(datum.value)","title":"Δ Distance (Å) to R1-Cα","titleY":182}},"color":{"field":"s","type":"nominal","scale":{"domain":["a","b","c","d"],"range":["#000000","#E8232A","#5BB946","#3B56B3"]},"legend":null}}},
 {"data":{"values":[{"s":"a","l":"E¹·⁵⁸","y":3.27},{"s":"b","l":"D¹·⁵¹","y":1.95},{"s":"d","l":"D³·⁵⁰","y":0.11},{"s":"c","l":"F²·⁵⁰","y":-2.26}]},"mark":{"type":"text","align":"left","baseline":"middle","dx":5,"fontSize":17,"font":"Noto Sans"},"encoding":{"x":{"datum":180,"axis":null},"y":{"field":"y","type":"quantitative"},"text":{"field":"l"},"color":{"field":"s","type":"nominal","scale":{"domain":["a","b","c","d"],"range":["#000000","#E8232A","#5BB946","#3B56B3"]},"legend":null}}},
 {"data":{"values":[{}]},"mark":{"type":"text","text":"Hv1 F·Zn²⁺","align":"left","baseline":"middle","fontSize":24},"encoding":{"x":{"datum":10,"axis":null},"y":{"datum":5.45}}}
]},
{"width":372,"height":317,"title":{"text":"F","dx":-71,"dy":40},"resolve":{"axis":{"x":"independent"}},"layer":[
 {"data":{"name":"bars"},"mark":{"type":"rect","strokeWidth":1},"encoding":{"x":{"field":"x0","type":"quantitative","axis":{"values":[0,10,20,30,40,50,60,70,80,90,100,110,120,130,140,150,160,170,180],"labels":false,"domain":false,"orient":"bottom","title":null}},"x2":{"field":"x1"},"y":{"datum":-5.65},"y2":{"datum":-5.2},"fill":{"condition":[{"test":"datum.c==='b'","value":"#2E4DA5"},{"test":"datum.c==='g'","value":"#5CB946"}],"value":"#ffffff"},"stroke":{"condition":{"test":"datum.c==='w'","value":"#000000"},"value":"transparent"}}},
 {"data":{"name":"bars"},"mark":{"type":"text","fontSize":12,"baseline":"middle"},"encoding":{"x":{"field":"m","type":"quantitative","axis":null},"y":{"datum":-5.42},"text":{"field":"l"},"fill":{"condition":{"test":"datum.c==='w'","value":"#000000"},"value":"#ffffff"}}},
 {"data":{"values":[{}]},"mark":{"type":"rule","color":"#000","strokeWidth":1.8},"encoding":{"x":{"datum":50,"axis":null},"x2":{"datum":180},"y":{"datum":0}}},
 {"data":{"name":"F"},"transform":[{"fold":["a","b","c","d","e","f","g"],"as":["s","v"]}],"mark":{"type":"line","strokeWidth":1},"encoding":{"x":{"field":"t","type":"quantitative","scale":{"domain":[0,180],"nice":false},"axis":{"values":[0,30,60,90,120,150,180],"labelExpr":"toString(datum.value)","orient":"bottom","title":null}},"y":{"field":"v","type":"quantitative","scale":{"domain":[-6,6],"nice":false,"zero":false,"range":[317,16]},"axis":{"values":[-6,-4,-2,0,2,4,6],"labelExpr":"toString(datum.value)","title":"Δ Distance (Å) to R2-Cα","titleY":184}},"color":{"field":"s","type":"nominal","scale":{"domain":["a","b","c","d","e","f","g"],"range":["#4EC5DD","#3A4DAD","#5BB946","#000000","#C14EB6","#E8232A","#252A86"]},"legend":null}}},
 {"data":{"values":[{"s":"a","l":"D¹·⁵¹","y":4.13},{"s":"b","l":"E¹·⁵⁸","y":3.38},{"s":"f","l":"E³·⁴⁶","y":-0.28},{"s":"c","l":"D³·⁵⁰","y":-1.19},{"s":"d","l":"E²·⁵³","y":-1.83},{"s":"e","l":"F²·⁵⁰","y":-2.54},{"s":"g","l":"D³·⁶¹","y":-3.42}]},"mark":{"type":"text","align":"left","baseline":"middle","dx":3,"fontSize":17,"font":"Noto Sans"},"encoding":{"x":{"datum":180,"axis":null},"y":{"field":"y","type":"quantitative"},"text":{"field":"l"},"color":{"field":"s","type":"nominal","scale":{"domain":["a","b","c","d","e","f","g"],"range":["#4EC5DD","#3A4DAD","#5BB946","#000000","#C14EB6","#E8232A","#252A86"]},"legend":null}}},
 {"data":{"values":[{}]},"mark":{"type":"text","text":"Hv1 F·Zn²⁺","align":"left","baseline":"middle","fontSize":24},"encoding":{"x":{"datum":17,"axis":null},"y":{"datum":5.5}}}
]},
{"width":393,"height":320,"title":{"text":"G","dx":-73,"dy":47},"resolve":{"axis":{"x":"independent"}},"layer":[
 {"data":{"name":"bars"},"mark":{"type":"rect","strokeWidth":1},"encoding":{"x":{"field":"x0","type":"quantitative","axis":{"values":[0,10,20,30,40,50,60,70,80,90,100,110,120,130,140,150,160,170,180],"labels":false,"domain":false,"orient":"bottom","title":null}},"x2":{"field":"x1"},"y":{"datum":-7.55},"y2":{"datum":-7.07},"fill":{"condition":[{"test":"datum.c==='b'","value":"#2E4DA5"},{"test":"datum.c==='g'","value":"#5CB946"}],"value":"#ffffff"},"stroke":{"condition":{"test":"datum.c==='w'","value":"#000000"},"value":"transparent"}}},
 {"data":{"name":"bars"},"mark":{"type":"text","fontSize":12,"baseline":"middle"},"encoding":{"x":{"field":"m","type":"quantitative","axis":null},"y":{"datum":-7.31},"text":{"field":"l"},"fill":{"condition":{"test":"datum.c==='w'","value":"#000000"},"value":"#ffffff"}}},
 {"data":{"name":"G"},"transform":[{"fold":["a","b","c","d","e","f","g","h"],"as":["s","v"]}],"mark":{"type":"line","strokeWidth":1},"encoding":{"x":{"field":"t","type":"quantitative","scale":{"domain":[0,180],"nice":false},"axis":{"values":[0,30,60,90,120,150,180],"labelExpr":"toString(datum.value)","orient":"bottom","title":"Time (ns)"}},"y":{"field":"v","type":"quantitative","scale":{"domain":[-8,5],"nice":false,"zero":false},"axis":{"values":[-8,-6,-4,-2,0,2,4],"labelExpr":"toString(datum.value)","title":"Δ Distance to ZN¹³ (Å)","titleY":187}},"color":{"field":"s","type":"nominal","scale":{"domain":["a","b","c","d","e","f","g","h"],"range":["#8B8B2E","#C14EB6","#4EC5DD","#3B56B3","#5BB946","#000000","#E8232A","#252A86"]},"legend":null}}},
 {"data":{"values":[{"s":"e","l":"E¹·⁵⁸","y":1.46},{"s":"a","l":"D³·⁵⁰","y":0.33},{"s":"b","l":"D³·⁶¹","y":-0.69},{"s":"f","l":"R1","y":-2.15},{"s":"g","l":"F²·⁵⁰","y":-3},{"s":"h","l":"D¹·⁵¹","y":-5.53}]},"mark":{"type":"text","align":"left","baseline":"middle","dx":3,"fontSize":17,"font":"Noto Sans"},"encoding":{"x":{"datum":180,"axis":null},"y":{"field":"y","type":"quantitative"},"text":{"field":"l"},"color":{"field":"s","type":"nominal","scale":{"domain":["a","b","c","d","e","f","g","h"],"range":["#8B8B2E","#C14EB6","#4EC5DD","#3B56B3","#5BB946","#000000","#E8232A","#252A86"]},"legend":null}}},
 {"data":{"values":[{}]},"mark":{"type":"text","text":"Hv1 F·Zn²⁺","align":"left","baseline":"middle","fontSize":24},"encoding":{"x":{"datum":7,"axis":null},"y":{"datum":4}}}
]},
{"width":385,"height":322,"title":{"text":"H","dx":-71,"dy":46},"layer":[
 {"data":{"name":"H"},"transform":[{"fold":["a","b","c","d","e","f","g"],"as":["s","v"]}],"mark":{"type":"line","strokeWidth":1},"encoding":{"x":{"field":"t","type":"quantitative","scale":{"domain":[0,100],"nice":false},"axis":{"values":[0,50,100],"labelExpr":"toString(datum.value)","tickSize":-7,"labelPadding":14,"title":"Time (ns)"}},"y":{"field":"v","type":"quantitative","scale":{"domain":[0,25],"nice":false,"range":[322,11]},"axis":{"values":[0,5,10,15,20,25],"labelExpr":"toString(datum.value)","title":"Cα-Cα Distance (Å)","titleY":182}},"color":{"field":"s","type":"nominal","scale":{"domain":["a","b","c","d","e","f","g"],"range":["#000000","#F5892A","#1E8C87","#3B56B3","#E8232A","#C14EB6","#252A86"]},"legend":null}}},
 {"data":{"values":[{"s":"a","l":"F²·⁵⁰-K⁵·⁴⁶","y":20.5},{"s":"b","l":"E¹·⁵⁸-F²·⁵⁰","y":18.7},{"s":"c","l":"H²·⁴⁰-H³·⁷¹","y":17.5},{"s":"d","l":"D¹·⁵¹-E¹·⁶²","y":11.7},{"s":"e","l":"D¹·⁵¹-F²·⁵⁰","y":9.9},{"s":"f","l":"F²·⁵⁰-D³·⁵⁰","y":8.2},{"s":"g","l":"R1-R2","y":4.8}]},"mark":{"type":"text","align":"left","baseline":"middle","dx":6,"fontSize":16,"font":"Noto Sans"},"encoding":{"x":{"datum":100},"y":{"field":"y","type":"quantitative"},"text":{"field":"l"},"color":{"field":"s","type":"nominal","scale":{"domain":["a","b","c","d","e","f","g"],"range":["#000000","#F5892A","#1E8C87","#3B56B3","#E8232A","#C14EB6","#252A86"]},"legend":null}}},
 {"data":{"values":[{}]},"mark":{"type":"text","text":"Hv1 F + Zn²⁺","align":"center","baseline":"middle","fontSize":24},"encoding":{"x":{"datum":52},"y":{"datum":23.9}}}
]}
]
}
